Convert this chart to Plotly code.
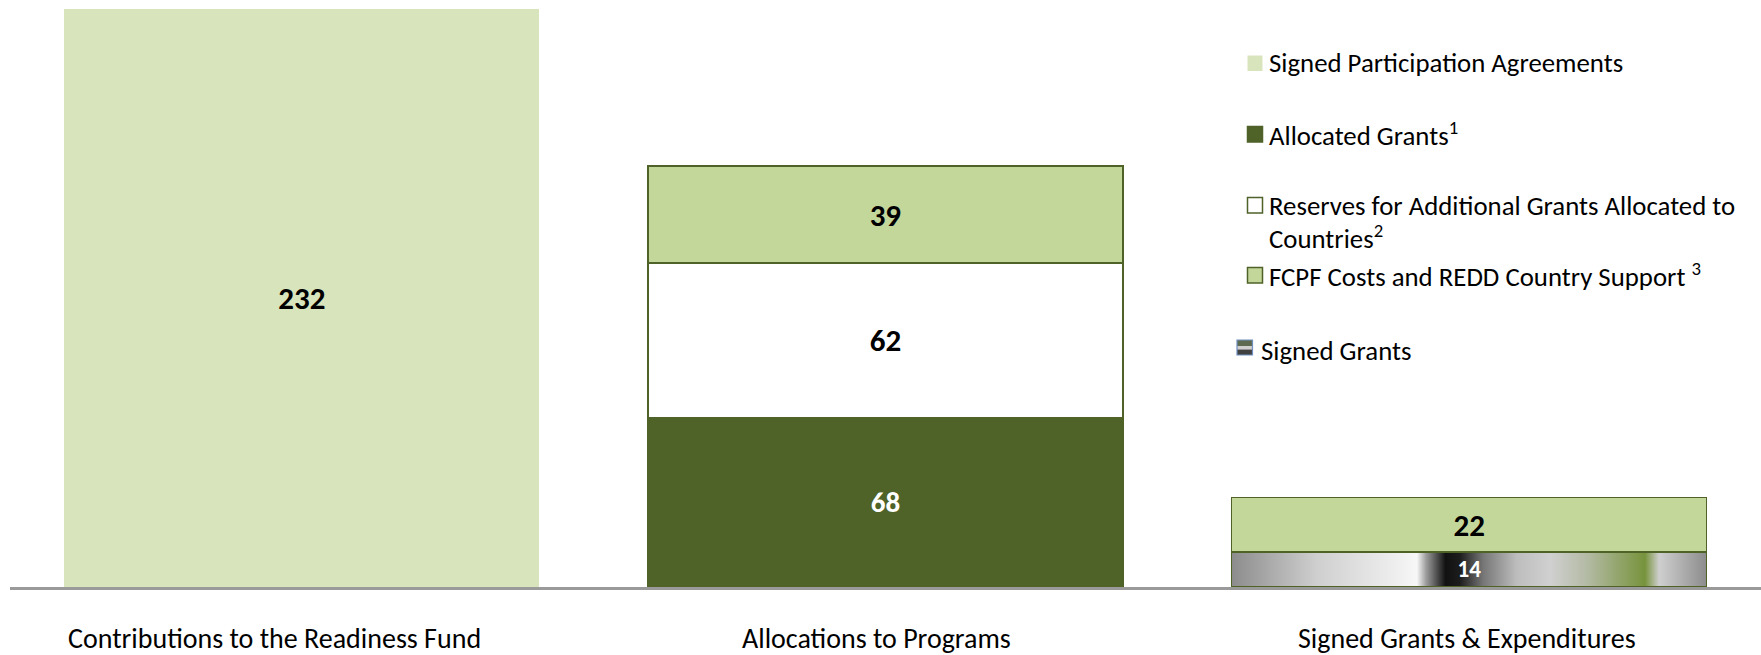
import base64
import plotly.graph_objects as go

# ---------------- data ----------------
categories = ["Contributions to the Readiness Fund",
              "Allocations to Programs",
              "Signed Grants & Expenditures"]
signed_participation = [232, None, None]
allocated_grants = [None, 68, None]
signed_grants = [None, None, 14]
reserves = [None, 62, None]
fcpf_costs = [None, 39, 22]

legend_labels = ["Signed Participation Agreements",
                 "Allocated Grants<sup>1</sup>",
                 "Reserves for Additional Grants Allocated to",
                 "Countries<sup>2</sup>",
                 "FCPF Costs and REDD Country Support <sup>3</sup>",
                 "Signed Grants"]

# ---------------- styling ----------------
W, H = 1761, 655
ML, MR, MT, MB = 10, 0, 0, 68
FONT = "Carlito, Lato, 'Open Sans', sans-serif"
C_LIGHT = "#D8E4BC"
C_DARK = "#4F6228"
C_MID = "#C4D79B"
BORDER = "#4F6228"
BARGAP = 0.186
YMAX = 235.6
LEG_SIZE = 26.8
CAT_SIZE = 28
CAT_SHIFT = [-27, -9, -2]   # label offsets (px) seen in the reference

pw = W - ML - MR
ph = H - MT - MB


def px_x(px):
    return (px - ML) / pw


def px_y(py):
    return (H - MB - py) / ph


fig = go.Figure()


def add_bar(name, vals, color, line_w, txt_color, txt_size):
    fig.add_trace(go.Bar(
        name=name, x=categories, y=vals,
        marker=dict(color=color, line=dict(color=BORDER, width=line_w)),
        text=[("" if v is None else str(v)) for v in vals],
        textposition="inside", insidetextanchor="middle", textangle=0,
        textfont=dict(family=FONT, size=txt_size, color=txt_color,
                      weight="bold"),
        showlegend=False, hoverinfo="skip",
    ))


add_bar("Signed Participation Agreements", signed_participation, C_LIGHT, 0,
        "black", 31)
add_bar("Allocated Grants", allocated_grants, C_DARK, 1.5, "white", 29)
add_bar("Signed Grants", signed_grants, "rgba(0,0,0,0)", 1.5, "white", 28)
add_bar("Reserves", reserves, "white", 1.5, "black", 31)
add_bar("FCPF Costs and REDD Country Support", fcpf_costs, C_MID, 1.5,
        "black", 31)

# gradient fill for signed grants bar (texture in reference)
stops = [(0.00, "#8c8c8c"), (0.18, "#cfcfcf"), (0.39, "#f7f7f7"),
         (0.41, "#9a9a9a"), (0.45, "#111111"), (0.48, "#1c1c1c"),
         (0.53, "#777777"), (0.60, "#bdbdbd"), (0.67, "#d0d0d0"),
         (0.75, "#b3baa3"), (0.87, "#77933c"), (0.90, "#cfcfcf"),
         (1.00, "#8c8c8c")]
stop_xml = "".join(f"<stop offset='{o}' stop-color='{c}'/>" for o, c in stops)
svg = ("<svg xmlns='http://www.w3.org/2000/svg' width='200' height='20' "
       "viewBox='0 0 200 20' preserveAspectRatio='none'><defs>"
       f"<linearGradient id='g' x1='0' y1='0' x2='1' y2='0'>{stop_xml}"
       "</linearGradient></defs><rect width='200' height='20' fill='url(#g)'/></svg>")
uri = "data:image/svg+xml;base64," + base64.b64encode(svg.encode()).decode()
bw = 1 - BARGAP
sg_idx = 2
fig.add_layout_image(dict(
    source=uri, xref="x", yref="y", x=sg_idx - bw / 2, y=signed_grants[sg_idx],
    sizex=bw, sizey=signed_grants[sg_idx], xanchor="left", yanchor="top",
    sizing="stretch", layer="below",
))

# ---------------- custom legend ----------------
shapes = []
annotations = []
legend_items = [
    # (label idx, swatch fill, swatch line, y center)
    (0, C_LIGHT, None, 63),
    (1, C_DARK, C_DARK, 134),
    (2, "white", BORDER, 205),
    (4, C_MID, BORDER, 275),
]
for idx, fill, line, yc in legend_items:
    shapes.append(dict(type="rect", xref="paper", yref="paper",
                       x0=px_x(1247.5), x1=px_x(1262.5), y0=px_y(yc + 8),
                       y1=px_y(yc - 7.5), fillcolor=fill,
                       line=dict(color=line or fill, width=1.5 if line else 0)))
    annotations.append(dict(xref="paper", yref="paper", x=px_x(1267),
                            y=px_y(yc), text=legend_labels[idx],
                            xanchor="left", yanchor="middle", showarrow=False,
                            font=dict(family=FONT, size=LEG_SIZE,
                                      color="black")))
annotations.append(dict(xref="paper", yref="paper", x=px_x(1267),
                        y=px_y(237), text=legend_labels[3],
                        xanchor="left", yanchor="middle", showarrow=False,
                        font=dict(family=FONT, size=LEG_SIZE, color="black")))
# signed grants swatch (striped icon)
for y0, y1, col in [(340, 346, "#5d6a4f"), (346, 349.5, "#cfcfcf"),
                    (349.5, 355, "#404040")]:
    shapes.append(dict(type="rect", xref="paper", yref="paper",
                       x0=px_x(1237), x1=px_x(1252.5), y0=px_y(y1),
                       y1=px_y(y0), fillcolor=col, line=dict(width=0)))
shapes.append(dict(type="rect", xref="paper", yref="paper",
                   x0=px_x(1237), x1=px_x(1252.5), y0=px_y(355),
                   y1=px_y(340), fillcolor="rgba(0,0,0,0)",
                   line=dict(color="#6f8fc0", width=1.2)))
annotations.append(dict(xref="paper", yref="paper", x=px_x(1259),
                        y=px_y(350), text=legend_labels[5],
                        xanchor="left", yanchor="middle", showarrow=False,
                        font=dict(family=FONT, size=LEG_SIZE, color="black")))

# category labels (placed under each bar, with the reference's offsets)
for cat, dx in zip(categories, CAT_SHIFT):
    annotations.append(dict(xref="x", yref="paper", x=cat, y=px_y(638),
                            xshift=dx, text=cat, xanchor="center",
                            yanchor="middle", showarrow=False,
                            font=dict(family=FONT, size=CAT_SIZE,
                                      color="black")))

fig.update_layout(
    width=W, height=H, barmode="stack", bargap=BARGAP,
    margin=dict(l=ML, r=MR, t=MT, b=MB),
    paper_bgcolor="white", plot_bgcolor="rgba(0,0,0,0)",
    shapes=shapes, annotations=annotations, showlegend=False,
    font=dict(family=FONT),
)
fig.update_xaxes(showline=True, linecolor="#9a9a9a", linewidth=2.5,
                 showgrid=False, zeroline=False, showticklabels=False,
                 ticks="", automargin=False, range=[-0.5, 2.5])
fig.update_yaxes(visible=False, range=[0, YMAX], showgrid=False,
                 zeroline=False)

fig.write_html("out.html",
               config={"displayModeBar": False},
               post_script="document.body.style.margin='0px';"
                           "document.body.style.padding='0px';"
                           "document.body.style.overflow='hidden';")
